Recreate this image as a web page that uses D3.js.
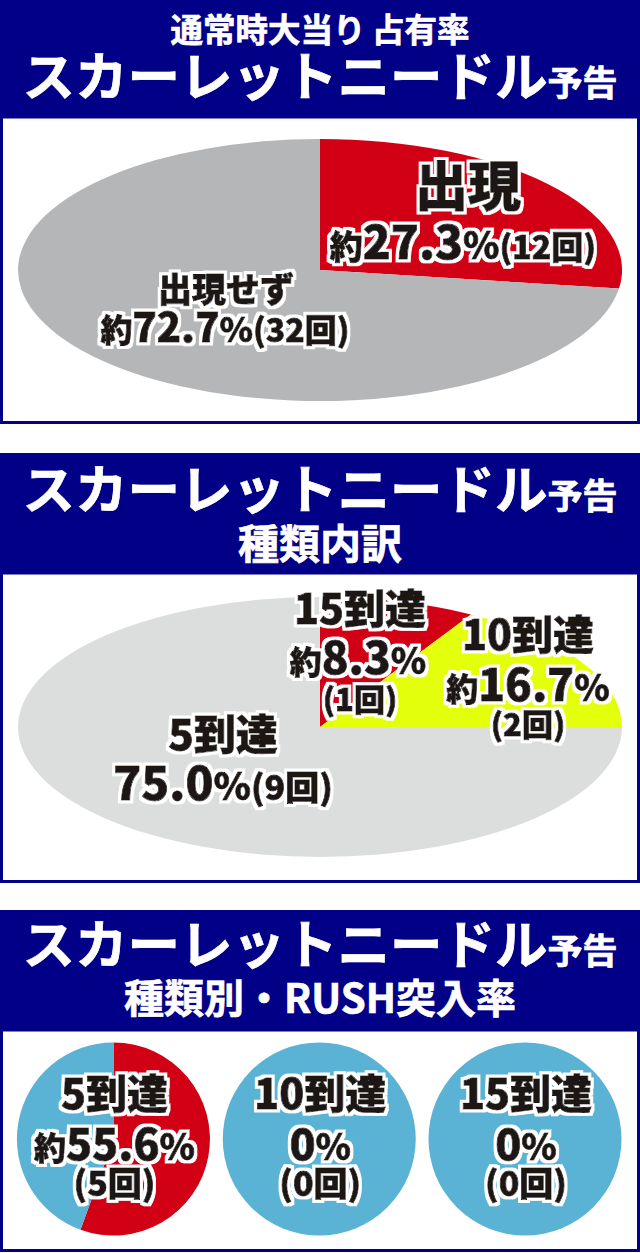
<!DOCTYPE html>
<html>
<head>
<meta charset="utf-8">
<script src="https://cdn.jsdelivr.net/npm/d3@7"></script>
<style>
  body { margin: 0; background: #fff; }
  svg { display: block; }
  .label { fill: #1c1412; stroke: #1c1412; stroke-width: 0.9px; font-family: "Noto Sans CJK JP", sans-serif; font-weight: 900; filter: url(#outline); }
  .title { fill: #fff; stroke: #fff; stroke-width: 0.7px; font-family: "Noto Sans CJK JP", sans-serif; font-weight: 700; text-anchor: middle; }
</style>
</head>
<body>
<svg width="640" height="1253"></svg>
<script>
// panel 1 : 通常時大当り占有率
var shareLabels = ['出現', '出現せず'];
var shareCounts = [12, 32];
var sharePcts = ['27.3', '72.7'];

// panel 2 : 種類内訳
var typeLabels = ['15到達', '10到達', '5到達'];
var typeCounts = [1, 2, 9];
var typePcts = ['8.3', '16.7', '75.0'];

// panel 3 : 種類別・RUSH突入率
var rushLabels = ['5到達', '10到達', '15到達'];
var rushCounts = [5, 0, 0];
var rushTotals = [9, 2, 1];
var rushPcts = ['55.6', '0', '0'];

var navy = '#020087';
var svg = d3.select('svg');

// white halo round the label text
var f = svg.append('defs').append('filter').attr('id', 'outline')
    .attr('x', '-20%').attr('y', '-30%').attr('width', '140%').attr('height', '160%');
f.append('feMorphology').attr('in', 'SourceAlpha').attr('operator', 'dilate').attr('radius', 3).attr('result', 'd');
f.append('feFlood').attr('flood-color', '#fff');
f.append('feComposite').attr('in2', 'd').attr('operator', 'in').attr('result', 'w');
var m = f.append('feMerge');
m.append('feMergeNode').attr('in', 'w');
m.append('feMergeNode').attr('in', 'SourceGraphic');

var pie = d3.pie().sort(null).value(function(d) { return d; });
var unitArc = d3.arc().innerRadius(0).outerRadius(1);

// header band + framed box
function panel(top, headH, bottom) {
    svg.append('rect')
        .attr('x', 1.5).attr('y', top + headH)
        .attr('width', 637).attr('height', bottom - top - headH - 1.5)
        .attr('fill', '#fff').attr('stroke', navy).attr('stroke-width', 3);
    svg.append('rect')
        .attr('x', 0).attr('y', top)
        .attr('width', 640).attr('height', headH)
        .attr('fill', navy);
}

function titleLine(y, parts) {
    var t = svg.append('text').attr('class', 'title')
        .attr('x', 320).attr('y', y);
    parts.forEach(function(p) {
        t.append('tspan').style('font-size', p[1] + 'px').text(p[0]);
    });
}

function mainTitle(y) {
    titleLine(y, [['スカーレットニードル', 52.5], ['予告', 35]]);
}

// label built from runs of [text, size]
function label(x, y, parts) {
    var t = svg.append('text').attr('class', 'label')
        .attr('x', x).attr('y', y)
        .attr('text-anchor', 'middle');
    parts.forEach(function(p) {
        t.append('tspan').style('font-size', p[1] + 'px').text(p[0]);
    });
}

// elliptical pie drawn as unit circle scaled
function ellipsePie(cx, cy, rx, ry, values, colors) {
    var g = svg.append('g')
        .attr('transform', 'translate(' + cx + ',' + cy + ') scale(' + rx + ',' + ry + ')');
    g.selectAll('path')
        .data(pie(values))
        .join('path')
        .attr('d', unitArc)
        .attr('fill', function(d, i) { return colors[i]; });
}

// ---------- panel 1 ----------
panel(0, 117, 424);
titleLine(42, [['通常時大当り\u2009占有率', 32.5]]);
mainTitle(96);
ellipsePie(320, 270, 302, 131, shareCounts, ['#d20015', '#b5b6b7']);

label(468, 206, [[shareLabels[0], 53]]);
label(463, 259, [['約', 33], [sharePcts[0], 46], ['%', 37], ['(' + shareCounts[0] + '回)', 32]]);
label(226, 302, [[shareLabels[1], 34]]);
label(225, 342, [['約', 32], [sharePcts[1], 40], ['%', 34], ['(' + shareCounts[1] + '回)', 32]]);

// ---------- panel 2 ----------
panel(453, 120, 883);
mainTitle(509);
titleLine(559, [['種類内訳', 41]]);
ellipsePie(320, 727, 302, 130, typeCounts, ['#d20015', '#e3ff0b', '#dcdddd']);

label(360, 624, [[typeLabels[0], 41]]);
label(358, 674, [['約', 32], [typePcts[0], 44], ['%', 36]]);
label(360, 711, [['(' + typeCounts[0] + '回)', 31]]);
label(528, 650, [[typeLabels[1], 41]]);
label(528, 701, [['約', 32], [typePcts[1], 44], ['%', 36]]);
label(528, 736, [['(' + typeCounts[1] + '回)', 31]]);
label(223, 750, [[typeLabels[2], 42]]);
label(223, 800, [[typePcts[2], 46], ['%', 38], ['(' + typeCounts[2] + '回)', 34]]);

// ---------- panel 3 ----------
panel(910, 120, 1252);
mainTitle(964);
titleLine(1013, [['種類別・RUSH突入率', 40]]);

var cx3 = d3.scalePoint().domain(rushLabels).range([113.5, 525]);
rushLabels.forEach(function(name, i) {
    var x = cx3(name);
    ellipsePie(x, 1139, 96.5, 96.5, [rushCounts[i], rushTotals[i] - rushCounts[i]], ['#d20015', '#5ab3d5']);
    label(x + 1, 1109, [[name, 41]]);
    if (rushCounts[i] > 0) {
        label(x + 1, 1160, [['約', 32], [rushPcts[i], 43], ['%', 36]]);
    } else {
        label(x + 1, 1160, [[rushPcts[i], 43], ['%', 36]]);
    }
    label(x + 1, 1196, [['(' + rushCounts[i] + '回)', 34]]);
});
</script>
</body>
</html>
